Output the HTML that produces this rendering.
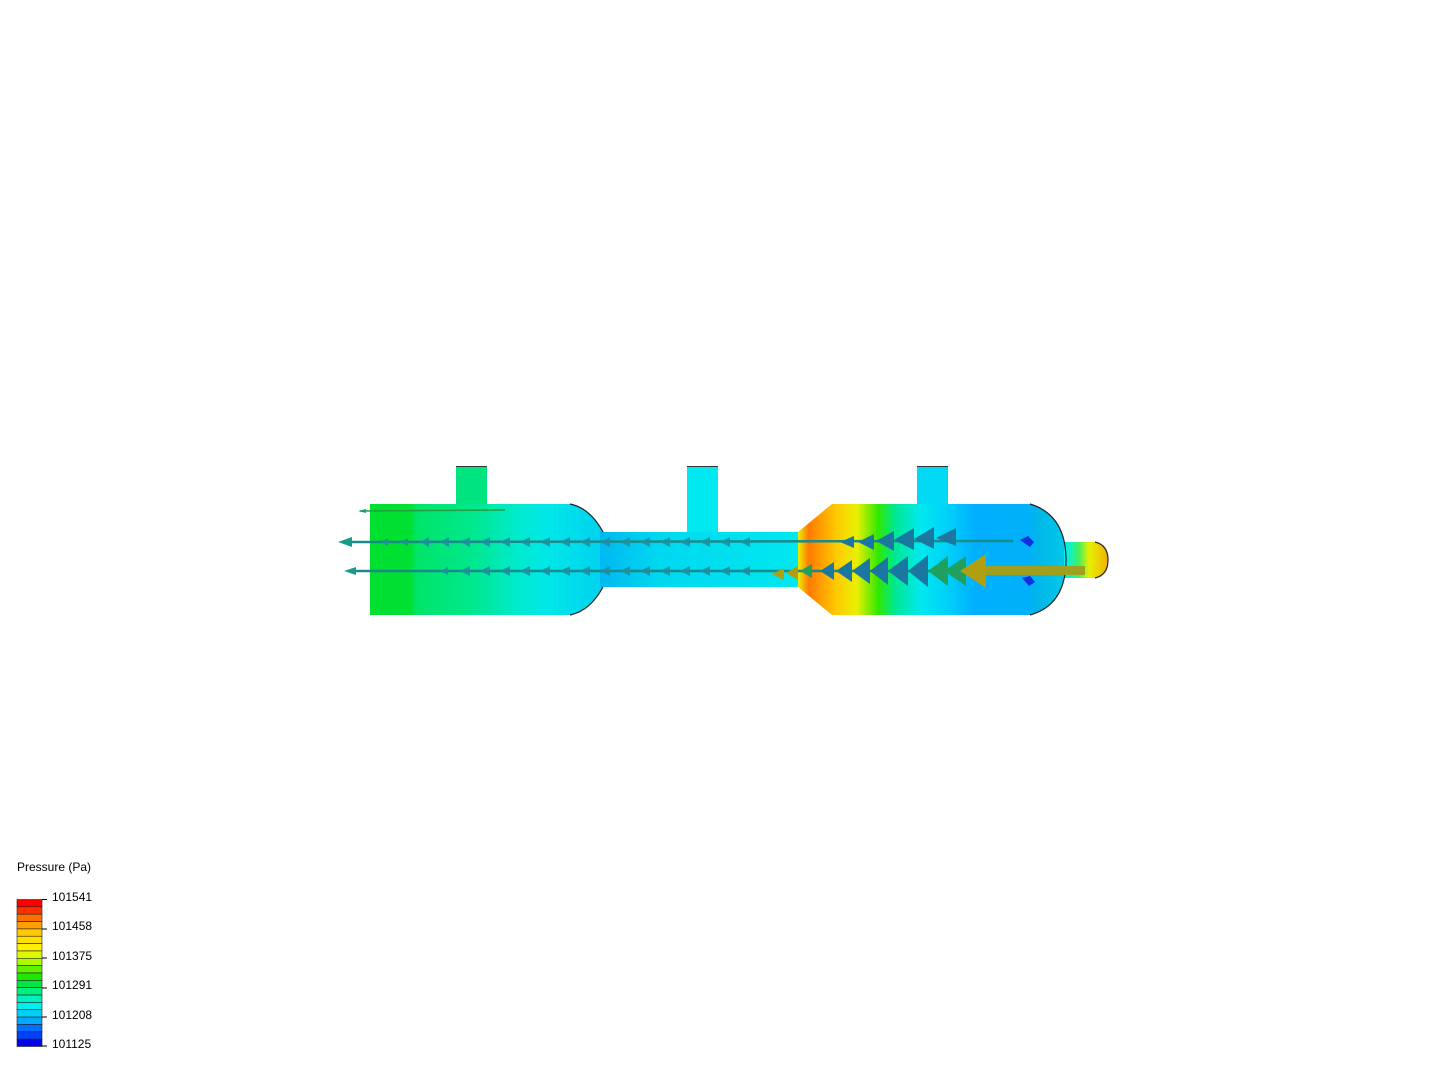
<!DOCTYPE html>
<html><head><style>body{margin:0;background:#fff;width:1440px;height:1080px;overflow:hidden;font-family:"Liberation Sans",sans-serif}</style></head>
<body>
<svg width="1440" height="1080" viewBox="0 0 1440 1080" xmlns="http://www.w3.org/2000/svg">
<defs>
<linearGradient id="gl" x1="370" x2="605" y1="0" y2="0" gradientUnits="userSpaceOnUse">
<stop offset="0" stop-color="#00e030"/><stop offset="0.17" stop-color="#00e030"/><stop offset="0.2" stop-color="#00e468"/><stop offset="0.45" stop-color="#00e890"/><stop offset="0.62" stop-color="#00eacc"/><stop offset="0.75" stop-color="#00e8e8"/><stop offset="1" stop-color="#00d0f0"/></linearGradient>
<linearGradient id="gm" x1="600" x2="800" y1="0" y2="0" gradientUnits="userSpaceOnUse">
<stop offset="0" stop-color="#00b8f0"/><stop offset="0.3" stop-color="#00d8f0"/><stop offset="1" stop-color="#00e8f0"/></linearGradient>
<linearGradient id="gr" x1="798" x2="1066" y1="0" y2="0" gradientUnits="userSpaceOnUse">
<stop offset="0" stop-color="#e8f000"/><stop offset="0.04" stop-color="#ff7a00"/><stop offset="0.14" stop-color="#ffc800"/><stop offset="0.22" stop-color="#e8f000"/><stop offset="0.3" stop-color="#30e800"/><stop offset="0.36" stop-color="#00e890"/><stop offset="0.46" stop-color="#00e8f0"/><stop offset="0.56" stop-color="#00d0f8"/><stop offset="0.66" stop-color="#00b0ff"/><stop offset="0.86" stop-color="#00b0f8"/><stop offset="0.9" stop-color="#00b8e8"/><stop offset="1" stop-color="#00c8e8"/></linearGradient>
<linearGradient id="go" x1="1066" x2="1108" y1="0" y2="0" gradientUnits="userSpaceOnUse">
<stop offset="0" stop-color="#00f0f0"/><stop offset="0.3" stop-color="#40f060"/><stop offset="0.55" stop-color="#e8f000"/><stop offset="1" stop-color="#f0b000"/></linearGradient>
</defs>
<!-- nozzles -->
<rect x="456" y="466" width="31" height="40" fill="#00e480"/>
<rect x="687" y="466" width="31" height="68" fill="#00e8f0"/>
<rect x="917" y="466" width="31" height="40" fill="#00d8f4"/>
<line x1="456" y1="466.5" x2="487" y2="466.5" stroke="#333" stroke-width="1"/>
<line x1="687" y1="466.5" x2="718" y2="466.5" stroke="#333" stroke-width="1"/>
<line x1="917" y1="466.5" x2="948" y2="466.5" stroke="#333" stroke-width="1"/>
<!-- left tank -->
<path d="M370 504 H570 Q590 508 603 532 V587 Q590 611 570 615 H370 Z" fill="url(#gl)"/>
<rect x="600" y="532" width="202" height="55" fill="url(#gm)"/>
<path d="M798 532 L832 504 H1030 Q1066 515 1066 560 Q1066 605 1030 615 H832 L798 587 Z" fill="url(#gr)"/>
<path d="M1064 542 H1095 Q1108 545 1108 560 Q1108 575 1095 578 H1064 Z" fill="url(#go)"/>
<path d="M570 504 Q590 508 603 532 M570 615 Q590 611 603 587 M1030 504 Q1066 515 1066 560 Q1066 605 1030 615 M1095 542 Q1108 545 1108 560 Q1108 575 1095 578" fill="none" stroke="#222" stroke-width="1.2"/>
<path d="M1020 540 l8 -4 l6 6 l-4 5 z M1022 578 l8 -2 l5 6 l-6 4 z" fill="#1030e0"/>
<!-- arrow rows -->
<g stroke="#1a8a8a" stroke-width="2.5">
<line x1="345" y1="542" x2="1013" y2="541"/>
<line x1="350" y1="571" x2="985" y2="571"/>
</g>
<line x1="360" y1="511" x2="505" y2="510" stroke="#20a040" stroke-width="1.5"/>
<rect x="985" y="566" width="100" height="9" fill="#a0a020"/>
<g fill="#1a9a8a">
<path d="M338 542 l14 -5 v10 z"/><path d="M344 571 l12 -4 v8 z"/><path d="M358 511 l8 -2 v4 z"/>
</g>
<g fill="#2090a0" opacity="0.9">
<path d="M380 542 l8 -4 v8z M400 542 l8 -4 v8z M420 542 l9 -5 v10z M440 542 l9 -5 v10z M460 542 l10 -5 v10z M480 542 l10 -5 v10z M500 542 l10 -5 v10z M520 542 l10 -5 v10z M540 542 l10 -5 v10z M560 542 l10 -5 v10z M580 542 l10 -5 v10z M600 542 l10 -5 v10z M620 542 l10 -5 v10z M640 542 l10 -5 v10z M660 542 l10 -5 v10z M680 542 l10 -5 v10z M700 542 l10 -5 v10z M720 542 l10 -5 v10z M740 542 l10 -5 v10z"/>
<path d="M440 571 l8 -4 v8z M460 571 l10 -5 v10z M480 571 l10 -5 v10z M500 571 l10 -5 v10z M520 571 l10 -5 v10z M540 571 l10 -5 v10z M560 571 l10 -5 v10z M580 571 l10 -5 v10z M600 571 l10 -5 v10z M620 571 l10 -5 v10z M640 571 l10 -5 v10z M660 571 l10 -5 v10z M680 571 l10 -5 v10z M700 571 l10 -5 v10z M720 571 l10 -5 v10z M740 571 l10 -5 v10z"/>
</g>
<g fill="#1a78a0">
<path d="M840 542 l14 -6 v12z M858 542 l16 -8 v16z M876 541 l18 -10 v20z M894 540 l20 -12 v22z M914 539 l20 -12 v22z M936 538 l20 -10 v18z"/>
<path d="M820 571 l14 -9 v18z M836 571 l16 -11 v22z M852 571 l18 -13 v26z M870 571 l18 -14 v28z M888 571 l20 -15 v30z M908 571 l20 -16 v32z"/>
</g>
<g fill="#20a060"><path d="M800 571 l12 -7 v14z M928 571 l20 -15 v30z M944 571 l22 -15 v30z"/></g>
<g fill="#b0a010"><path d="M772 574 l12 -6 v12z M786 573 l12 -7 v14z M960 571 l26 -17 v34z"/></g>
<!-- legend -->
<text x="17" y="871" font-size="12" fill="#000">Pressure (Pa)</text>
<g stroke="#222" stroke-width="0.6">
<rect x="17" y="899.5" width="25" height="7.35" fill="#ff0000"/>
<rect x="17" y="906.85" width="25" height="7.35" fill="#ff3000"/>
<rect x="17" y="914.2" width="25" height="7.35" fill="#ff7000"/>
<rect x="17" y="921.55" width="25" height="7.35" fill="#ffa000"/>
<rect x="17" y="928.9" width="25" height="7.35" fill="#ffc800"/>
<rect x="17" y="936.25" width="25" height="7.35" fill="#ffe000"/>
<rect x="17" y="943.6" width="25" height="7.35" fill="#fff000"/>
<rect x="17" y="950.95" width="25" height="7.35" fill="#e0f800"/>
<rect x="17" y="958.3" width="25" height="7.35" fill="#b0f800"/>
<rect x="17" y="965.65" width="25" height="7.35" fill="#60f000"/>
<rect x="17" y="973" width="25" height="7.35" fill="#20e800"/>
<rect x="17" y="980.35" width="25" height="7.35" fill="#00e840"/>
<rect x="17" y="987.7" width="25" height="7.35" fill="#00f080"/>
<rect x="17" y="995.05" width="25" height="7.35" fill="#00f0c0"/>
<rect x="17" y="1002.4" width="25" height="7.35" fill="#00f0f0"/>
<rect x="17" y="1009.75" width="25" height="7.35" fill="#00d0f8"/>
<rect x="17" y="1017.1" width="25" height="7.35" fill="#00a8ff"/>
<rect x="17" y="1024.45" width="25" height="7.35" fill="#0070ff"/>
<rect x="17" y="1031.8" width="25" height="7.35" fill="#0040ff"/>
<rect x="17" y="1039.15" width="25" height="7.35" fill="#0000f0"/>
</g>
<g stroke="#000" stroke-width="1">
<line x1="42" y1="899.5" x2="47" y2="899.5"/><line x1="42" y1="929" x2="47" y2="929"/><line x1="42" y1="958" x2="47" y2="958"/><line x1="42" y1="988" x2="47" y2="988"/><line x1="42" y1="1017" x2="47" y2="1017"/><line x1="42" y1="1046" x2="47" y2="1046"/>
</g>
<g font-size="12" fill="#000">
<text x="52" y="901">101541</text><text x="52" y="930">101458</text><text x="52" y="960">101375</text><text x="52" y="989">101291</text><text x="52" y="1019">101208</text><text x="52" y="1048">101125</text>
</g>
</svg>
</body></html>
